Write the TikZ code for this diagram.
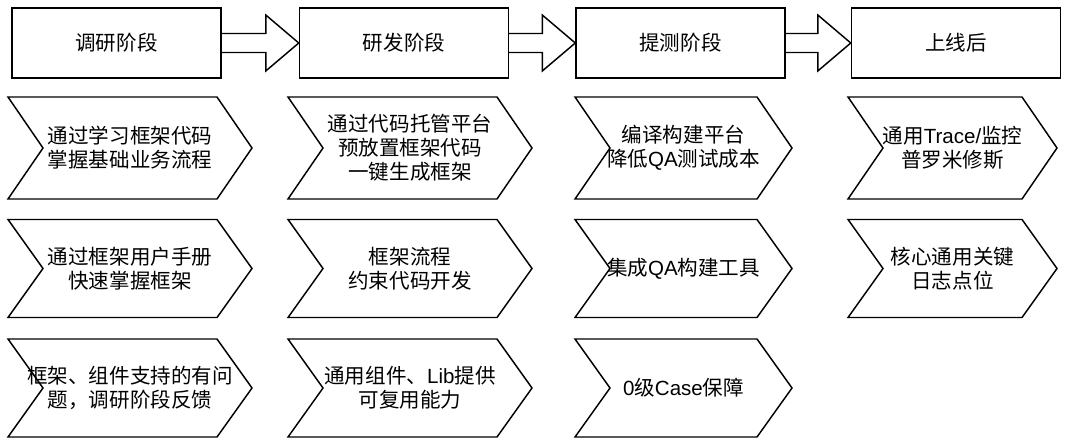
\documentclass[tikz,border=0pt]{standalone}
\usepackage{fontspec}
\setmainfont{Noto Sans CJK SC}
\newfontfamily\latinfont{Liberation Sans}
\newcommand\lat[1]{{\latinfont #1}}
\usetikzlibrary{calc}
\begin{document}
\begin{tikzpicture}[x=0.75pt,y=-0.75pt,
    font=\fontsize{15.4pt}{18pt}\selectfont,
    phase/.style={draw,line width=1.1pt,minimum width=156.75pt,minimum height=52.5pt,inner sep=0pt},
    stepbox/.style={align=center,inner sep=0pt,outer sep=0pt,minimum height=73.5pt},
    stepline/.style={line width=1.1pt,line join=miter},
    bigarrow/.style={line width=1.1pt,line join=miter}]
    \fill[white] (0,0) rectangle (1080,447);
    \useasboundingbox (0,0) rectangle (1080,447);
    % stages
    \node[phase] (survey) at (116.5,43) {调研阶段};
    \node[phase] (dev) at (404,43) {研发阶段};
    \node[phase] (qa) at (680.5,43) {提测阶段};
    \node[phase] (live) at (956,43) {上线后};
    \foreach \a/\b in {survey/dev,dev/qa,qa/live}
    \draw[bigarrow] ($(\a.east)+(0,-9.5)$) -- ($(\b.west)+(-33,-9.5)$) -- ($(\b.west)+(-33,-28)$)
        -- (\b.west) -- ($(\b.west)+(-33,28)$) -- ($(\b.west)+(-33,9.5)$) -- ($(\a.east)+(0,9.5)$);
    % steps
    \node[stepbox,minimum width=183pt,minimum height=76.5pt] (a1) at (130,148) {通过学习框架代码\\掌握基础业务流程};
    \node[stepbox,minimum width=183pt] (a2) at (130,268.5) {通过框架用户手册\\快速掌握框架};
    \node[stepbox,minimum width=183pt] (a3) at (130,388) {框架、组件支持的有问\\题，调研阶段反馈};
    \node[stepbox,minimum width=183pt,minimum height=76.5pt] (b1) at (410,148) {通过代码托管平台\\预放置框架代码\\一键生成框架};
    \node[stepbox,minimum width=183pt] (b2) at (410,268.5) {框架流程\\约束代码开发};
    \node[stepbox,minimum width=183pt] (b3) at (410,388) {通用组件、\lat{Lib}提供\\可复用能力};
    \node[stepbox,minimum width=162.75pt,minimum height=76.5pt] (c1) at (683.5,148) {编译构建平台\\降低\lat{QA}测试成本};
    \node[stepbox,minimum width=162.75pt] (c2) at (683.5,268.5) {集成\lat{QA}构建工具};
    \node[stepbox,minimum width=162.75pt] (c3) at (683.5,388) {\lat{0}级\lat{Case}保障};
    \node[stepbox,minimum width=156.75pt,minimum height=76.5pt] (d1) at (952.5,148) {通用\lat{Trace/}监控\\普罗米修斯};
    \node[stepbox,minimum width=156.75pt] (d2) at (952.5,268.5) {核心通用关键\\日志点位};
    \foreach \n in {a1,a2,a3,b1,b2,b3,c1,c2,c3,d1,d2}
    \draw[stepline] (\n.north west) -- ($(\n.north east)+(-35,0)$) -- (\n.east)
        -- ($(\n.south east)+(-35,0)$) -- (\n.south west) -- ($(\n.west)+(35,0)$) -- cycle;
\end{tikzpicture}
\end{document}
